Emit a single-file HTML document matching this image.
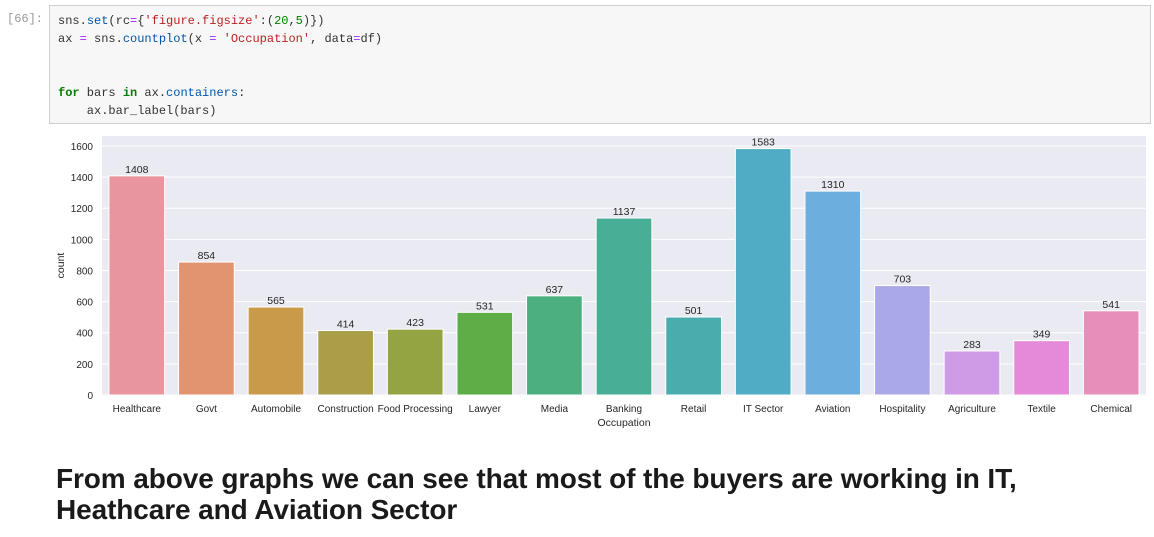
<!DOCTYPE html>
<html><head><meta charset="utf-8"><style>
body{margin:0;width:1154px;height:537px;background:#fff;position:relative;overflow:hidden;font-family:"Liberation Sans",sans-serif}
#prompt{position:absolute;left:7px;top:12px;font:12px "Liberation Mono",monospace;color:#999}
#code{position:absolute;left:49px;top:5px;width:1102px;height:119px;background:#f7f7f7;border:1px solid #cfcfcf;box-sizing:border-box;font:12px "Liberation Mono",monospace;color:#333;padding:6px 8px;line-height:18px;white-space:pre}
.k{color:#008000;font-weight:bold}.s{color:#ba2121}.n{color:#008000}.f{color:#0055aa}.o{color:#aa22ff}
h2{position:absolute;left:56px;top:463px;margin:0;font-size:28px;line-height:31px;font-weight:bold;color:#1a1a1a;letter-spacing:-0.1px}
svg{position:absolute;left:0;top:0}
</style></head><body>
<div id="prompt">[66]:</div>
<div id="code">sns.<span class="f">set</span>(rc<span class="o">=</span>{<span class="s">'figure.figsize'</span>:(<span class="n">20</span>,<span class="n">5</span>)})
ax <span class="o">=</span> sns.<span class="f">countplot</span>(x <span class="o">=</span> <span class="s">'Occupation'</span>, data<span class="o">=</span>df)


<span class="k">for</span> bars <span class="k">in</span> ax.<span class="f">containers</span>:
    ax.bar_label(bars)</div>
<svg id="chart" width="1154" height="537"></svg>
<h2>From above graphs we can see that most of the buyers are working in IT,<br>Heathcare and Aviation Sector</h2>
<script>
const categories=["Healthcare","Govt","Automobile","Construction","Food Processing","Lawyer","Media","Banking","Retail","IT Sector","Aviation","Hospitality","Agriculture","Textile","Chemical"];
const counts=[1408,854,565,414,423,531,637,1137,501,1583,1310,703,283,349,541];
const yTicks=[0,200,400,600,800,1000,1200,1400,1600];
const colors=["#e8959f","#e2936f","#c89a49","#aa9e48","#94a443","#5dae46","#4caf80","#49ae96","#4aacac","#50abc4","#6caede","#aba8e8","#d09be6","#e58ad9","#e68fbb"];
const NS="http://www.w3.org/2000/svg",svg=document.getElementById('chart');
const L=102,R=1146,T=136,B=395,ymax=1664;
const y=v=>B-(v/ymax)*(B-T);
const step=(R-L)/categories.length;
const xc=i=>L+step*(i+0.5);
function mk(t,a,txt){const e=document.createElementNS(NS,t);for(const k in a)e.setAttribute(k,a[k]);if(txt!=null)e.textContent=txt;svg.appendChild(e);return e;}
let bg=mk('rect',{x:L,y:T,width:R-L,height:B-T,fill:'#eaeaf2'});


yTicks.forEach(v=>{
 let g=mk('line',{x1:L,x2:R,y1:y(v),y2:y(v),stroke:'#fff','stroke-width':1});
 
 
 let t=mk('text',{x:L-9,y:y(v)+4,'text-anchor':'end','font-size':10,fill:'#262626'},v);
 
 
});
counts.forEach((v,i)=>{
 const w=step*0.8;
 let b=mk('rect',{x:xc(i)-w/2,y:y(v),width:w,height:B-y(v),fill:colors[i],stroke:'#fff','stroke-width':1});
 
 
 let l=mk('text',{x:xc(i),y:y(v)-3,'text-anchor':'middle','font-size':10.5,fill:'#262626'},v);
 
 
 let c=mk('text',{x:xc(i),y:B+17,'text-anchor':'middle','font-size':10,fill:'#262626'},categories[i]);
 
 
});
let xt=mk('text',{x:(L+R)/2,y:B+31,'text-anchor':'middle','font-size':10.5,fill:'#262626'},'Occupation');


let yt=mk('text',{x:0,y:0,'text-anchor':'middle','font-size':10.5,fill:'#262626',transform:`translate(64,${(T+B)/2}) rotate(-90)`},'count');


</script>
</body></html>
